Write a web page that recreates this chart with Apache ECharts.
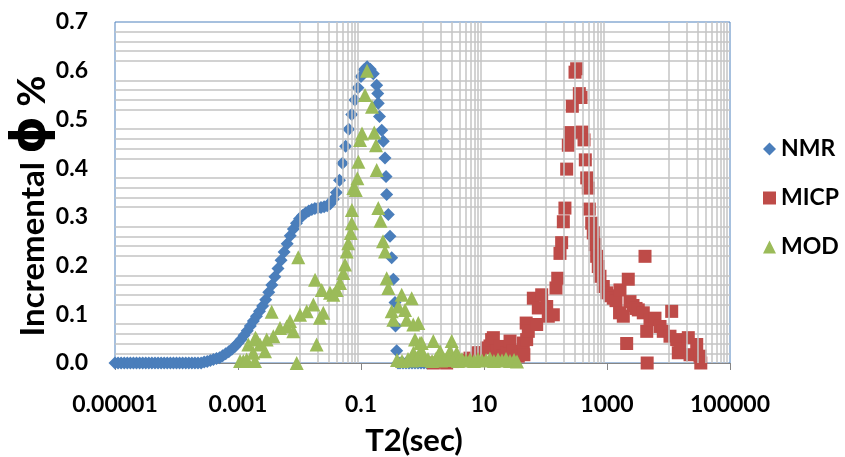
<!DOCTYPE html>
<html>
<head>
<meta charset="utf-8">
<script src="https://cdn.jsdelivr.net/npm/echarts@6/dist/echarts.min.js"></script>
<style>html,body{margin:0;padding:0;background:#fff;}#c{width:845px;height:457px;}</style>
</head>
<body>
<div id="c"></div>
<script>
// ---- data ----
var seriesNames = ['NMR', 'MICP', 'MOD'];
var xTickLabels = ['0.00001', '0.001', '0.1', '10', '1000', '100000'];
var yTickLabels = ['0.0', '0.1', '0.2', '0.3', '0.4', '0.5', '0.6', '0.7'];

var nmrT2 = [
  1.000e-5, 1.122e-5, 1.259e-5, 1.413e-5, 1.585e-5, 1.778e-5, 1.995e-5, 2.239e-5, 2.512e-5, 2.818e-5,
  3.162e-5, 3.548e-5, 3.981e-5, 4.467e-5, 5.012e-5, 5.623e-5, 6.310e-5, 7.079e-5, 7.943e-5, 8.913e-5,
  1.000e-4, 1.122e-4, 1.259e-4, 1.413e-4, 1.585e-4, 1.778e-4, 1.995e-4, 2.239e-4,
  2.512e-4, 2.818e-4, 3.162e-4, 3.548e-4, 3.981e-4, 4.467e-4, 5.012e-4, 5.623e-4, 6.310e-4, 7.079e-4,
  7.943e-4, 8.913e-4, 1.000e-3, 1.122e-3, 1.259e-3, 1.413e-3, 1.585e-3, 1.778e-3, 1.995e-3, 2.239e-3,
  2.512e-3, 2.818e-3, 3.162e-3, 3.548e-3, 3.981e-3, 4.467e-3, 5.012e-3, 5.623e-3, 6.310e-3, 7.079e-3,
  7.943e-3, 8.913e-3, 1.000e-2, 1.122e-2, 1.259e-2, 1.413e-2, 1.585e-2, 1.778e-2, 1.995e-2, 2.239e-2,
  2.512e-2, 2.818e-2, 3.162e-2, 3.548e-2, 3.981e-2, 4.467e-2, 5.012e-2, 5.623e-2, 6.310e-2, 7.079e-2,
  7.943e-2, 8.913e-2, 0.1000, 0.1122, 0.1259, 0.1413,
  0.1585, 0.1799, 0.1871, 0.1910, 0.2000, 0.2173, 0.2307, 0.2455, 0.2553, 0.2618,
  0.2780, 0.2965, 0.3155, 0.3350, 0.3573, 0.3639, 0.3802,
  0.3999, 0.4305, 0.4819, 0.5395, 0.6026, 0.6745, 0.7551, 0.8453, 0.9462, 1.057, 1.183
];
var nmrVal = [
  0, 0, 0, 0, 0, 0, 0, 0, 0, 0,
  0, 0, 0, 0, 0, 0, 0, 0, 0, 0,
  0, 0, 0, 0, 0, 0, 0, 0,
  0.000, 0.002, 0.003, 0.005, 0.007, 0.009, 0.011, 0.015, 0.019, 0.023,
  0.028, 0.034, 0.041, 0.048, 0.057, 0.066, 0.076, 0.086, 0.096, 0.106,
  0.117, 0.130, 0.145, 0.160, 0.177, 0.194, 0.211, 0.228, 0.245, 0.261,
  0.275, 0.287, 0.296, 0.303, 0.308, 0.312, 0.315, 0.317, 0.318, 0.319,
  0.321, 0.323, 0.327, 0.336, 0.350, 0.375, 0.410, 0.445, 0.480, 0.510,
  0.540, 0.565, 0.588, 0.602, 0.608, 0.603,
  0.594, 0.570, 0.553, 0.533, 0.506, 0.478, 0.455, 0.421, 0.383, 0.346,
  0.305, 0.260, 0.216, 0.172, 0.124, 0.076, 0.025,
  0, 0, 0, 0, 0, 0, 0, 0, 0, 0, 0
];

var micpT2 = [
  1.50, 2.0, 2.47, 3.13, 4.39, 5.92, 7.60, 7.9, 8.61, 11.1,
  12.5, 13.3, 14.2, 16.1, 18.2, 20.4, 23.4, 26.5, 29.9, 36.1,
  43.6, 44.5, 49.4, 48.5, 52.5, 63.4, 71.9, 76.4, 86.7, 104.6,
  111, 134, 148, 158, 172, 183, 195, 207, 221, 235,
  250, 273, 302, 321, 355, 378, 392, 423, 444, 468,
  497, 515, 564, 598, 638, 679, 721, 769, 871, 989,
  1119, 1265, 1400, 1626, 1600, 1841, 2089, 2218, 2366, 2649,
  2965, 3228, 3890, 4150, 4426, 4500, 5000, 6026, 7278, 8222,
  10570, 11270, 13590, 14430, 15380, 20990, 22390, 28770, 32510, 33500
];
var micpVal = [
  0.000, 0.002, 0.000, 0.003, 0.005, 0.010, 0.007, 0.021, 0.021, 0.031,
  0.035, 0.048, 0.052, 0.024, 0.034, 0.015, 0.021, 0.045, 0.024, 0.014,
  0.041, 0.017, 0.048, 0.082, 0.065, 0.133, 0.079, 0.113, 0.140, 0.116,
  0.096, 0.099, 0.154, 0.174, 0.225, 0.247, 0.290, 0.318, 0.398, 0.447,
  0.473, 0.527, 0.597, 0.604, 0.553, 0.545, 0.474, 0.458, 0.417, 0.380,
  0.359, 0.316, 0.287, 0.267, 0.243, 0.219, 0.198, 0.178, 0.157, 0.144,
  0.138, 0.133, 0.128, 0.150, 0.103, 0.096, 0.040, 0.172, 0.126, 0.118,
  0.112, 0.109, 0.103, 0.219, 0.065, 0.000, 0.089, 0.092, 0.075, 0.065,
  0.055, 0.106, 0.048, 0.021, 0.028, 0.052, 0.017, 0.038, 0.014, 0.000
];

var modT2 = [
  1.08e-3, 1.22e-3, 1.38e-3, 1.47e-3, 1.77e-3, 1.89e-3, 2.01e-3, 1.92e-3, 2.28e-3, 2.75e-3,
  2.93e-3, 3.53e-3, 3.75e-3, 4.82e-3, 6.19e-3, 7.01e-3, 7.93e-3, 9.0e-3, 9.55e-3,
  1.02e-2, 1.31e-2, 1.68e-2, 1.79e-2, 1.90e-2, 2.15e-2, 2.30e-2, 2.44e-2, 3.13e-2, 3.55e-2,
  4.03e-2, 4.56e-2, 5.16e-2, 5.50e-2, 5.86e-2, 6.21e-2, 6.81e-2, 7.08e-2, 7.1e-2, 7.52e-2,
  8.22e-2, 8.73e-2, 9.06e-2, 9.64e-2,
  0.1038, 0.1161, 0.1253, 0.1510, 0.1644, 0.1754, 0.1799, 0.1910, 0.2075, 0.228,
  0.2455, 0.2618, 0.278, 0.3155, 0.335, 0.4036, 0.4592, 0.519, 0.5534, 0.667,
  0.708, 0.71, 0.755, 0.855, 0.91, 0.905, 0.97, 1.03, 1.50, 1.93,
  2.80, 2.98, 3.60,
  0.385, 0.464, 0.581, 0.674, 0.814, 1.057, 1.23, 1.43, 1.66, 2.0,
  2.32, 2.70, 3.13, 3.78, 4.39, 5.10, 5.92, 6.87, 7.98, 9.27,
  10.8, 12.5, 14.5, 16.9, 19.6, 22.8, 26.5, 30.8, 34.4
];
var modVal = [
  0.004, 0.004, 0.007, 0.038, 0.021, 0.004, 0.048, 0.052, 0.038, 0.024,
  0.048, 0.105, 0.055, 0.072, 0.075, 0.086, 0.065, 0.000, 0.217,
  0.099, 0.106, 0.120, 0.171, 0.038, 0.093, 0.150, 0.103, 0.144, 0.140,
  0.150, 0.164, 0.185, 0.202, 0.229, 0.246, 0.267, 0.287, 0.314, 0.359,
  0.355, 0.379, 0.413, 0.458,
  0.471, 0.550, 0.600, 0.526, 0.473, 0.447, 0.396, 0.318, 0.292, 0.250,
  0.229, 0.174, 0.154, 0.106, 0.089, 0.116, 0.140, 0.109, 0.089, 0.133,
  0.079, 0.021, 0.048, 0.082, 0.041, 0.021, 0.041, 0.018, 0.045, 0.024,
  0.024, 0.045, 0.021,
  0.006, 0.004, 0.008, 0.005, 0.010, 0.006, 0.008, 0.004, 0.009, 0.005,
  0.007, 0.010, 0.006, 0.004, 0.008, 0.005, 0.007, 0.004, 0.008, 0.005,
  0.006, 0.009, 0.004, 0.007, 0.005, 0.008, 0.004, 0.006, 0.003
];

// vertical minor gridline decades and multipliers (as in the reference grid)
var gridDecades = [1e-4, 1e-2, 1, 1e2, 1e4];
var gridMultipliers = [1, 2, 3, 4, 5, 6, 7, 8, 9];

function zip(xs, ys) { return xs.map(function (x, i) { return [x, ys[i]]; }); }

var vLines = [];
gridDecades.forEach(function (d) {
  gridMultipliers.forEach(function (m) { vLines.push({ xAxis: d * m }); });
});

var FONT = 'Lato';
var GRID_COLOR = '#C4C4C4';
var chart = echarts.init(document.getElementById('c'), null, { renderer: 'canvas' });
chart.setOption({
  animation: false,
  backgroundColor: '#ffffff',
  grid: { left: 115, right: 115, top: 22, bottom: 94, show: true, borderColor: '#4F81BD', borderWidth: 1, backgroundColor: 'transparent' },
  legend: {
    data: seriesNames,
    orient: 'vertical',
    left: 763, top: 136,
    padding: 0,
    itemGap: 23,
    itemWidth: 13, itemHeight: 13,
    textStyle: { fontFamily: FONT, fontWeight: 'bold', fontSize: 23, color: '#000', lineHeight: 26 }
  },
  xAxis: {
    type: 'log', logBase: 10, min: 1e-5, max: 1e5, interval: 2,
    axisLine: { show: true, lineStyle: { color: '#868686', width: 1 } },
    axisTick: { show: true, length: 7, lineStyle: { color: '#868686' } },
    splitLine: { show: false },
    axisLabel: {
      margin: 30, fontFamily: FONT, fontWeight: 'bold', fontSize: 23, color: '#000',
      formatter: function (v) {
        var e = Math.round(Math.log10(v));
        var idx = (e + 5) / 2;
        return xTickLabels[idx] !== undefined ? xTickLabels[idx] : '';
      }
    }
  },
  yAxis: {
    type: 'value', min: 0, max: 0.7, interval: 0.1,
    axisLine: { show: false },
    axisTick: { show: false },
    splitLine: { show: false },
    minorTick: { show: false, splitNumber: 5 },
    minorSplitLine: { show: true, lineStyle: { color: GRID_COLOR, width: 1.5 } },
    axisLabel: {
      margin: 27, fontFamily: FONT, fontWeight: 'bold', fontSize: 23, color: '#000',
      formatter: function (v) { return yTickLabels[Math.round(v * 10)]; }
    }
  },
  graphic: [
    { type: 'text', x: 33, y: 206, rotation: Math.PI / 2,
      style: {
        text: '{a|Incremental }{b|ϕ}{c| %}',
        fill: '#000', textAlign: 'center', textVerticalAlign: 'middle',
        rich: {
          a: { fontFamily: FONT, fontWeight: 'bold', fontSize: 33, fill: '#000' },
          b: { fontFamily: 'DejaVu Sans', fontWeight: 'bold', fontSize: 48, fill: '#000' },
          c: { fontFamily: FONT, fontWeight: 'bold', fontSize: 38, fill: '#000' }
        }
      } },
    { type: 'text', x: 414, y: 441,
      style: { text: 'T2(sec)', font: 'bold 31px ' + FONT, fill: '#000', textAlign: 'center', textVerticalAlign: 'middle' } }
  ],
  series: [
    { type: 'line', name: 'grid', data: [], z: 1, silent: true,
      markLine: { silent: true, symbol: ['none', 'none'], label: { show: false },
        lineStyle: { color: GRID_COLOR, width: 1.5, type: 'solid' }, data: vLines, animation: false } },
    { type: 'scatter', name: 'NMR', symbol: 'diamond', symbolSize: 13, z: 3,
      itemStyle: { color: '#4A7EBB', opacity: 1 }, data: zip(nmrT2, nmrVal) },
    { type: 'scatter', name: 'MICP', symbol: 'rect', symbolSize: 13, z: 4,
      itemStyle: { color: '#BE4B48', opacity: 1 }, data: zip(micpT2, micpVal) },
    { type: 'scatter', name: 'MOD', symbol: 'triangle', symbolSize: 14, z: 5,
      itemStyle: { color: '#9BBB59', opacity: 1 }, data: zip(modT2, modVal) }
  ]
});
</script>
</body>
</html>
